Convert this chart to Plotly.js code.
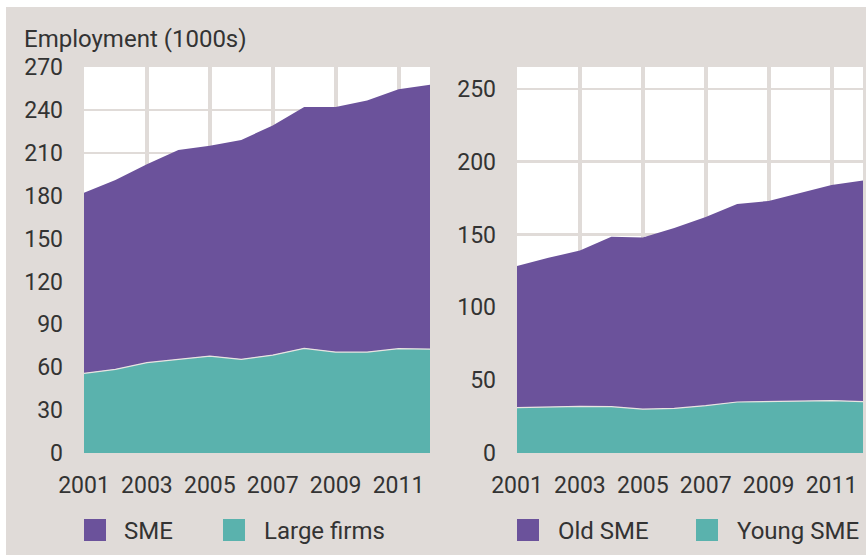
<!DOCTYPE html>
<html>
<head>
<meta charset="utf-8">
<script src="https://cdn.plot.ly/plotly-3.0.1.min.js"></script>
<style>
  html, body { margin: 0; padding: 0; background: #ffffff; }
  #chart { position: absolute; left: 6px; top: 7px; width: 860px; height: 548px; }
</style>
</head>
<body>
<div id="chart"></div>
<script>
// ---- Data ----
const years = [2001, 2002, 2003, 2004, 2005, 2006, 2007, 2008, 2009, 2010, 2011, 2012];

// Left panel (Employment, 1000s)
const largeFirms = [55.7, 58.5, 63.2, 65.5, 67.8, 65.5, 68.5, 73.2, 70.6, 70.6, 73.0, 72.7];
const sme        = [126.3, 132.5, 138.8, 146.5, 147.2, 153.5, 160.5, 168.8, 171.4, 175.9, 181.5, 184.9];

// Right panel (SME split)
const youngSME = [31.2, 31.6, 32.0, 31.8, 30.1, 30.6, 32.5, 35.0, 35.5, 36.0, 36.0, 35.3];
const oldSME   = [97.1, 102.4, 107.0, 116.6, 117.9, 123.9, 129.5, 136.0, 137.5, 142.5, 148.0, 151.7];

const xTickVals  = [2001, 2003, 2005, 2007, 2009, 2011];
const xTickText  = ['2001', '2003', '2005', '2007', '2009', '2011'];
const yTicksLeft  = [0, 30, 60, 90, 120, 150, 180, 210, 240, 270];
const yTicksRight = [0, 50, 100, 150, 200, 250];

const titleText = 'Employment (1000s)';
const legendLeft  = ['SME', 'Large firms'];
const legendRight = ['Old SME', 'Young SME'];

// ---- Styles ----
const PURPLE = '#6b529b';
const TEAL = '#5ab2ad';
const BG = '#e0dbd8';
const TXT = '#333333';
const FONT = 'Roboto, "Open Sans", sans-serif';
const FS_TICK = 23;
const FS_TITLE = 24;
const FS_LEG = 24;

const W = 860, H = 548, OX = 6, OY = 7;
const PLOT_TOP = 67, PLOT_BOT = 453;
function px(X) { return (X - OX) / W; }
function py(Y) { return (PLOT_BOT - Y) / (PLOT_BOT - PLOT_TOP); }

const traces = [
  { x: years, y: largeFirms, name: legendLeft[1], type: 'scatter', mode: 'lines',
    stackgroup: 'L', fillcolor: TEAL, line: { color: '#e8e4e1', width: 1.2 },
    xaxis: 'x', yaxis: 'y', showlegend: false, hoverinfo: 'x+y' },
  { x: years, y: sme, name: legendLeft[0], type: 'scatter', mode: 'lines',
    stackgroup: 'L', fillcolor: PURPLE, line: { color: PURPLE, width: 0 },
    xaxis: 'x', yaxis: 'y', showlegend: false, hoverinfo: 'x+y' },
  { x: years, y: youngSME, name: legendRight[1], type: 'scatter', mode: 'lines',
    stackgroup: 'R', fillcolor: TEAL, line: { color: '#e8e4e1', width: 1.2 },
    xaxis: 'x2', yaxis: 'y2', showlegend: false, hoverinfo: 'x+y' },
  { x: years, y: oldSME, name: legendRight[0], type: 'scatter', mode: 'lines',
    stackgroup: 'R', fillcolor: PURPLE, line: { color: PURPLE, width: 0 },
    xaxis: 'x2', yaxis: 'y2', showlegend: false, hoverinfo: 'x+y' }
];

const xCommon = {
  range: [2001, 2012], tickvals: xTickVals, ticktext: xTickText,
  showgrid: true, gridcolor: BG, gridwidth: 4, zeroline: false,
  showline: false, ticks: '', ticklabelstandoff: 16,
  tickfont: { family: FONT, size: FS_TICK, color: TXT }, fixedrange: true
};
const yCommon = {
  showgrid: true, gridcolor: BG, gridwidth: 2.5, zeroline: false,
  showline: false, ticks: '', ticklabelstandoff: 20,
  tickfont: { family: FONT, size: FS_TICK, color: TXT }, fixedrange: true
};

const sq = 22;
function legendSquare(X, color) {
  return { type: 'rect', xref: 'paper', yref: 'paper',
    x0: px(X), x1: px(X + sq), y0: py(541), y1: py(541 - sq),
    fillcolor: color, line: { width: 0 } };
}
function legendLabel(X, text) {
  return { xref: 'paper', yref: 'paper', x: px(X - 2), y: py(531),
    xanchor: 'left', yanchor: 'middle', showarrow: false, text: text,
    font: { family: FONT, size: FS_LEG, color: TXT } };
}

const layout = {
  width: W, height: H,
  paper_bgcolor: BG, plot_bgcolor: '#ffffff',
  margin: { l: 0, r: 0, t: PLOT_TOP - OY, b: H - (PLOT_BOT - OY) },
  showlegend: false,
  title: { text: titleText, xref: 'paper', x: px(24), xanchor: 'left',
    yref: 'container', y: 1 - (39 - OY) / H, yanchor: 'middle',
    font: { family: FONT, size: FS_TITLE, color: TXT } },
  xaxis: Object.assign({}, xCommon, { domain: [px(84), px(430)], anchor: 'y' }),
  yaxis: Object.assign({}, yCommon, { range: [0, 270], tickvals: yTicksLeft, anchor: 'x' }),
  xaxis2: Object.assign({}, xCommon, { domain: [px(517), px(863)], anchor: 'y2' }),
  yaxis2: Object.assign({}, yCommon, { range: [0, 265], tickvals: yTicksRight, anchor: 'x2' }),
  shapes: [
    legendSquare(84, PURPLE), legendSquare(223, TEAL),
    legendSquare(517, PURPLE), legendSquare(696, TEAL)
  ],
  annotations: [
    legendLabel(124, legendLeft[0]), legendLabel(264, legendLeft[1]),
    legendLabel(558, legendRight[0]), legendLabel(737, legendRight[1])
  ]
};

Plotly.newPlot('chart', traces, layout, { displayModeBar: false, staticPlot: true });
</script>
</body>
</html>
